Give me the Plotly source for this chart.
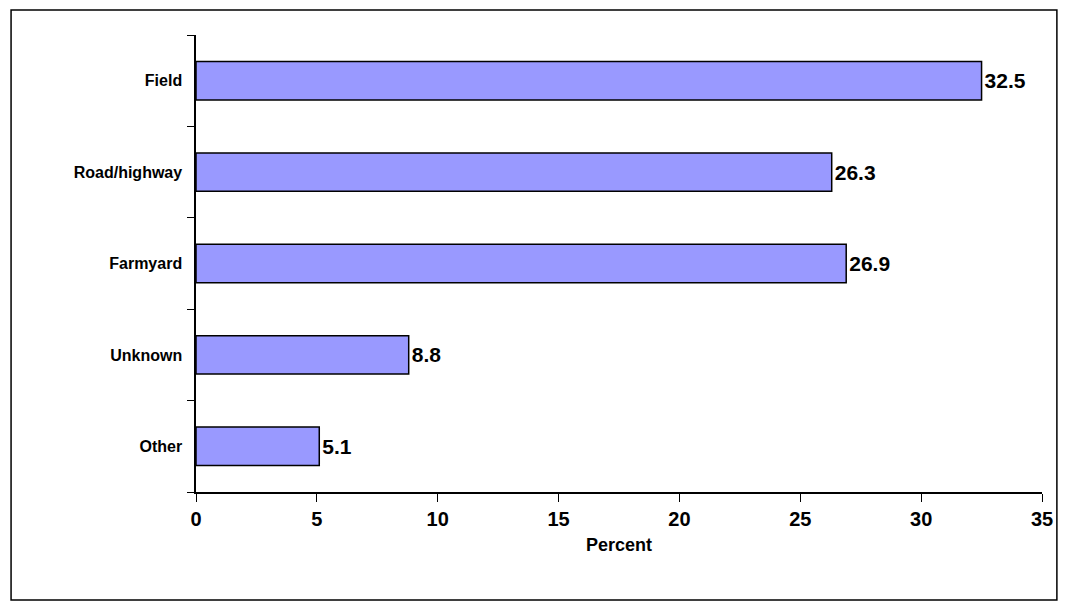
import plotly.graph_objects as go

categories = ["Field", "Road/highway", "Farmyard", "Unknown", "Other"]
values = [32.5, 26.3, 26.9, 8.8, 5.1]
labels = ["32.5", "26.3", "26.9", "8.8", "5.1"]

fig = go.Figure(go.Bar(
    x=values, y=categories, orientation="h",
    marker=dict(color="#9999ff", line=dict(color="black", width=1.5)),
    text=labels, texttemplate="<b>%{text}</b>", textposition="outside", cliponaxis=False,
    textfont=dict(size=21, color="black", family="Liberation Sans"),
    width=0.42,
))

fig.update_layout(
    width=1057, height=594,
    margin=dict(l=188, r=14, t=27, b=110),
    plot_bgcolor="white", paper_bgcolor="white",
    font=dict(family="Liberation Sans", color="black"),
    showlegend=False,
    shapes=[dict(type="rect", xref="paper", yref="paper",
                 x0=-0.2186, x1=1.0176, y0=-0.2363, y1=1.0547,
                 line=dict(color="black", width=1.5))],
)
fig.update_xaxes(range=[0, 35], dtick=5, showline=True, linecolor="black", linewidth=1.5,
                 ticks="outside", ticklen=8, tickcolor="black", showgrid=False, zeroline=False,
                 tickfont=dict(size=20, family="Liberation Sans", color="black"),
                 tickprefix="<b>", ticksuffix="</b>",
                 title=dict(text="<b>Percent</b>", font=dict(size=18), standoff=10))
fig.update_yaxes(categoryorder="array", categoryarray=categories[::-1],
                 showline=True, linecolor="black", linewidth=1.5,
                 ticks="outside", ticklen=7, tickcolor="black", tickson="boundaries",
                 showgrid=False, tickfont=dict(size=16, family="Liberation Sans", color="black"),
                 tickprefix="<b>", ticksuffix="</b>  ")
fig.write_html("out.html")
